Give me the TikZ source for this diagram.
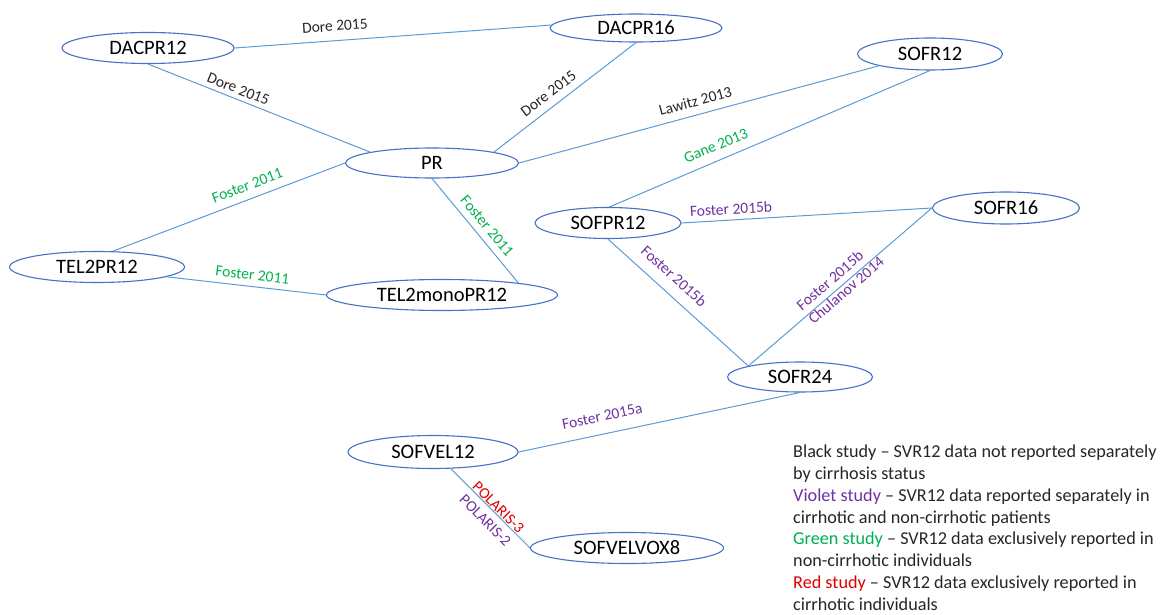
\documentclass[tikz,border=0pt]{standalone}
\usepackage{fontspec}
\setmainfont{Carlito}
\usetikzlibrary{shapes.geometric}
\definecolor{edgeblue}{HTML}{5B9BD5}
\definecolor{nodeblue}{HTML}{4472C4}
\definecolor{stgreen}{HTML}{00B050}
\definecolor{stviolet}{HTML}{7030A0}
\definecolor{stred}{HTML}{E00000}
\definecolor{stblack}{HTML}{262626}

\begin{document}
\begin{tikzpicture}[x=1pt,y=-1pt,
  arm/.style={ellipse, draw=nodeblue, line width=1.1pt, inner sep=0pt,
    text height=13pt, text depth=0pt, font=\fontsize{20.5}{24}\selectfont},
  link/.style={draw=edgeblue, line width=1pt},
  lbl/.style={sloped, inner sep=0pt, font=\fontsize{15.5}{18}\selectfont},
  blk/.style={lbl, text=stblack},
  grn/.style={lbl, text=stgreen},
  vio/.style={lbl, text=stviolet},
  rd/.style={lbl, text=stred},
  keyline/.style={anchor=base west, inner sep=0pt, text=stblack,
    font=\fontsize{18.2}{21.8}\selectfont}]

\useasboundingbox (0,0) rectangle (1169,615);

% treatment arms
\node[arm, minimum width=172pt, minimum height=31pt] (DACPR12) at (148,48) {DACPR12};
\node[arm, minimum width=172pt, minimum height=28pt] (DACPR16) at (636,28) {DACPR16};
\node[arm, minimum width=145pt, minimum height=32pt] (SOFR12) at (930,54) {SOFR12};
\node[arm, minimum width=173pt, minimum height=30pt] (PR) at (432,163) {PR};
\node[arm, minimum width=175pt, minimum height=31pt] (TEL2PR12) at (97,267) {TEL2PR12};
\node[arm, minimum width=231pt, minimum height=31pt] (TEL2monoPR12) at (442,295) {TEL2monoPR12};
\node[arm, minimum width=146pt, minimum height=31pt] (SOFPR12) at (608,223) {SOFPR12};
\node[arm, minimum width=147pt, minimum height=32pt] (SOFR16) at (1006,208) {SOFR16};
\node[arm, minimum width=145pt, minimum height=30pt] (SOFR24) at (800,377) {SOFR24};
\node[arm, minimum width=170pt, minimum height=33pt] (SOFVEL12) at (433,452) {SOFVEL12};
\node[arm, minimum width=193pt, minimum height=31pt] (SOFVELVOX8) at (627,548) {SOFVELVOX8};

% comparisons and the studies behind them
\draw[link] (DACPR12.east) -- node[blk, pos=0.32, above=9pt] {Dore 2015} (DACPR16.178);
\draw[link] (DACPR12.south) -- node[blk, pos=0.39, above=4.5pt] {Dore 2015} (PR.170);
\draw[link] (DACPR16.south) -- node[blk, pos=0.56, above=7.5pt] {Dore 2015} (PR.10);
\draw[link] (PR.east) -- node[blk, pos=0.5, above=8pt] {Lawitz 2013} (SOFR12.193);
\draw[link] (SOFPR12.85) -- node[grn, pos=0.35, above=9pt] {Gane 2013} (SOFR12.south);
\draw[link] (PR.west) -- node[grn, pos=0.4, above=8pt] {Foster 2011} (TEL2PR12.45);
\draw[link] (PR.south) -- node[grn, pos=0.53, above=6.5pt] {Foster 2011} (TEL2monoPR12.9);
\draw[link] (TEL2PR12.-8) -- node[grn, pos=0.53, above=6pt] {Foster 2011} (TEL2monoPR12.west);
\draw[link] (SOFPR12.east) -- node[vio, pos=0.2, above=5pt] {Foster 2015b} (SOFR16.west);
\draw[link] (SOFPR12.south) -- node[vio, pos=0.39, above=11pt] {Foster 2015b} (SOFR24.168);
\draw[link] (SOFR16.west) -- node[vio, pos=0.49, anchor=center, yshift=2.8pt, align=left]
    {Foster 2015b\\Chulanov 2014} (SOFR24.168);
\draw[link] (SOFR24.south) -- node[vio, pos=0.69, above=12pt] {Foster 2015a} (SOFVEL12.east);
\draw[link] (SOFVEL12.-43) -- node[lbl, pos=0.544, anchor=center, yshift=-2.8pt, align=center,
    font=\fontsize{15.5}{18.5}\selectfont]
    {\textcolor{stred}{POLARIS-3}\\\textcolor{stviolet}{POLARIS-2}} (SOFVELVOX8.west);

% colour key
\node[keyline] (key1) at (793,457.7) {Black study – SVR12 data not reported separately};
\node[keyline] (key2) at (793,479.5) {by cirrhosis status};
\node[keyline] (key3) at (793,501.3) {\textcolor{stviolet}{Violet study} – SVR12 data reported separately in};
\node[keyline] (key4) at (793,523.1) {cirrhotic and non-cirrhotic patients};
\node[keyline] (key5) at (793,544.9) {\textcolor{stgreen}{Green study} – SVR12 data exclusively reported in};
\node[keyline] (key6) at (793,566.7) {non-cirrhotic individuals};
\node[keyline] (key7) at (793,588.5) {\textcolor{stred}{Red study} – SVR12 data exclusively reported in};
\node[keyline] (key8) at (793,610.3) {cirrhotic individuals};
\end{tikzpicture}
\end{document}
